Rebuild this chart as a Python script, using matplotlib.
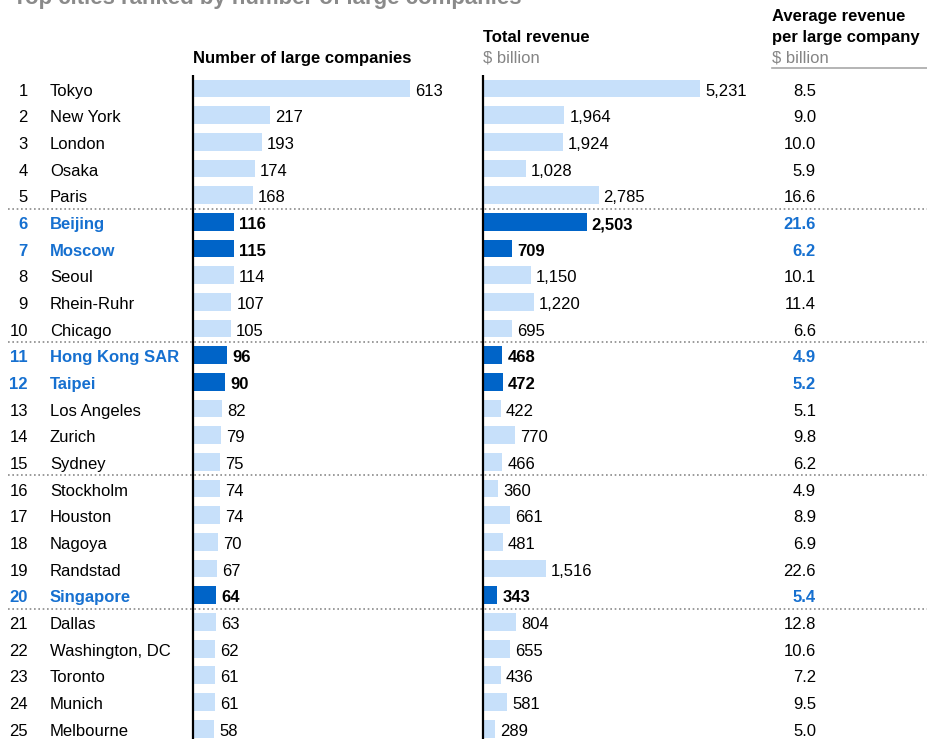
import matplotlib
matplotlib.use("Agg")
import matplotlib.pyplot as plt
from matplotlib.transforms import blended_transform_factory

plt.rcParams['font.family'] = ['Liberation Sans', 'DejaVu Sans']

# ---------------- data ----------------
title = "Top cities ranked by number of large companies"
ranks = list(range(1, 26))
cities = ["Tokyo", "New York", "London", "Osaka", "Paris", "Beijing", "Moscow",
          "Seoul", "Rhein-Ruhr", "Chicago", "Hong Kong SAR", "Taipei",
          "Los Angeles", "Zurich", "Sydney", "Stockholm", "Houston", "Nagoya",
          "Randstad", "Singapore", "Dallas", "Washington, DC", "Toronto",
          "Munich", "Melbourne"]
num_companies = [613, 217, 193, 174, 168, 116, 115, 114, 107, 105, 96, 90, 82,
                 79, 75, 74, 74, 70, 67, 64, 63, 62, 61, 61, 58]
total_revenue = [5231, 1964, 1924, 1028, 2785, 2503, 709, 1150, 1220, 695, 468,
                 472, 422, 770, 466, 360, 661, 481, 1516, 343, 804, 655, 436,
                 581, 289]
avg_revenue = [8.5, 9.0, 10.0, 5.9, 16.6, 21.6, 6.2, 10.1, 11.4, 6.6, 4.9, 5.2,
               5.1, 9.8, 6.2, 4.9, 8.9, 6.9, 22.6, 5.4, 12.8, 10.6, 7.2, 9.5, 5.0]
highlighted = ["Beijing", "Moscow", "Hong Kong SAR", "Taipei", "Singapore"]
group_breaks = [5, 10, 15, 20]   # dotted line after these ranks

header1 = "Number of large companies"
header2 = ["Total revenue", "$ billion"]
header3 = ["Average revenue", "per large company", "$ billion"]

# ---------------- styles ----------------
W, H = 928, 739
ROW0, ROW_H = 88.5, 26.67
LIGHT = "#c7e0fa"
DARK = "#0064c8"
BLUE_TXT = "#1670d0"
GRAY = "#858585"
FS = 12

fig = plt.figure(figsize=(W / 100, H / 100), dpi=100)
ytop = -ROW0 / ROW_H
ybot = (H - ROW0) / ROW_H

ax_bg = fig.add_axes([0, 0, 1, 1])
ax_bg.set_xlim(0, W)
ax_bg.set_ylim(H, 0)
ax_bg.axis("off")

x1_left, x1_scale = 193.5, (410 - 193.5) / 613
x2_left, x2_scale = 483.0, (700 - 483.0) / 5231
ax_w = 270
ax1 = fig.add_axes([x1_left / W, 0, ax_w / W, 1])
ax1.set_xlim(0, ax_w / x1_scale)
ax2 = fig.add_axes([x2_left / W, 0, ax_w / W, 1])
ax2.set_xlim(0, ax_w / x2_scale)
for a in (ax1, ax2):
    a.set_ylim(ybot, ytop)
    a.axis("off")
    a.patch.set_alpha(0)

rows = list(range(len(cities)))
is_hi = [c in highlighted for c in cities]
colors = [DARK if h else LIGHT for h in is_hi]

ax1.barh(rows, num_companies, height=0.67, color=colors, linewidth=0)
ax2.barh(rows, total_revenue, height=0.67, color=colors, linewidth=0)

line_top = (75 - ROW0) / ROW_H
for a in (ax1, ax2):
    a.plot([0, 0], [line_top, ybot], color="black", lw=1.6, clip_on=False,
           solid_capstyle="butt")

base_off = 0.27
for a, vals in ((ax1, num_companies), (ax2, total_revenue)):
    for r, v, h in zip(rows, vals, is_hi):
        a.annotate(f"{v:,}", (v, r + base_off), xytext=(5, 0),
                   textcoords="offset pixels", ha="left", va="baseline",
                   fontsize=FS, fontweight="bold" if h else "normal",
                   color="black")

# row labels (x in pixels, y in row units)
tr = blended_transform_factory(ax_bg.transData, ax1.transData)
for r, rk, c, av, h in zip(rows, ranks, cities, avg_revenue, is_hi):
    col = BLUE_TXT if h else "black"
    wt = "bold" if h else "normal"
    ax_bg.text(28, r + base_off, str(rk), transform=tr, ha="right",
               va="baseline", fontsize=FS, color=col, fontweight=wt)
    ax_bg.text(50, r + base_off, c, transform=tr, ha="left",
               va="baseline", fontsize=FS, color=col, fontweight=wt)
    ax_bg.text(816, r + base_off, f"{av:.1f}", transform=tr, ha="right",
               va="baseline", fontsize=FS, color=col, fontweight=wt)

# dotted group separators
for b in group_breaks:
    ax_bg.plot([8, W], [b - 0.5, b - 0.5], transform=tr, color="#8a8a8a",
               lw=1.2, linestyle=(0, (1, 1.6)), zorder=5)

# headers
ax_bg.text(13, 4, title, ha="left", va="baseline", fontsize=16,
           fontweight="bold", color="#8a8a8a")
ax_bg.text(193, 63, header1, ha="left", va="baseline", fontsize=FS,
           fontweight="bold")
ax_bg.text(483, 42, header2[0], ha="left", va="baseline", fontsize=FS,
           fontweight="bold")
ax_bg.text(483, 62, header2[1], ha="left", va="baseline", fontsize=FS,
           color=GRAY)
ax_bg.text(772, 21, header3[0], ha="left", va="baseline", fontsize=FS,
           fontweight="bold")
ax_bg.text(772, 42, header3[1], ha="left", va="baseline", fontsize=FS,
           fontweight="bold")
ax_bg.text(772, 62, header3[2], ha="left", va="baseline", fontsize=FS,
           color=GRAY)
ax_bg.plot([772, W], [67.5, 67.5], color="#a8a8a8", lw=1.2)

fig.savefig("out.png", dpi=100)
